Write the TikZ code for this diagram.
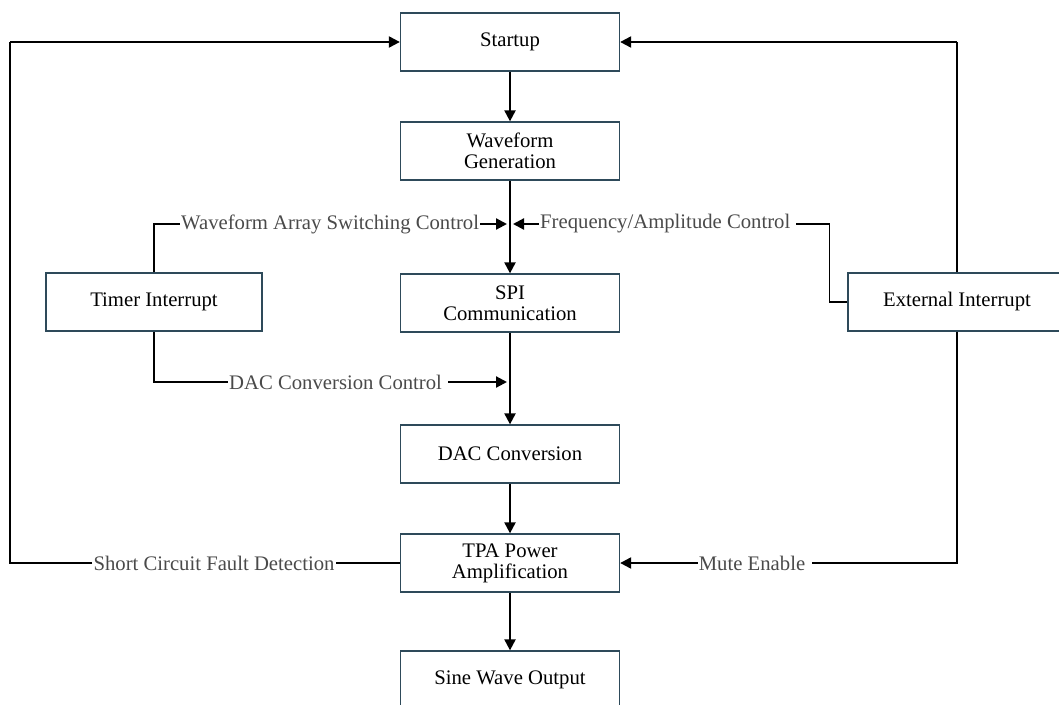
\documentclass[tikz,border=0pt]{standalone}
\usepackage{fontspec}
\setmainfont{Liberation Serif}
\usetikzlibrary{arrows.meta}
\definecolor{boxline}{HTML}{2E4A5A}
\definecolor{labelgray}{HTML}{4A4A4A}
\tikzset{
  block/.style={draw=boxline, line width=1.3pt, minimum width=219pt, minimum height=58pt,
    align=center, inner sep=0pt, font=\fontsize{20.7}{21}\selectfont},
  flow/.style={line width=2.2pt, -{Triangle[length=11pt,width=11pt]}},
  wire/.style={line width=1.3pt},
  tag/.style={text=labelgray, inner sep=1pt, font=\fontsize{20.7}{21}\selectfont}
}
\begin{document}
\begin{tikzpicture}[x=1pt,y=-1pt]
  \useasboundingbox (0,0) rectangle (1059,704);
  \clip (0,0) rectangle (1059,704);
  % main chain
  \node[block] (startup) at (510,42) {Startup};
  \node[block] (wavegen) at (510,151) {Waveform\\Generation};
  \node[block] (spi) at (510,303) {SPI\\Communication};
  \node[block] (dac) at (510,454) {DAC Conversion};
  \node[block] (tpa) at (510,563) {TPA Power\\Amplification};
  \node[block] (sine) at (510,680) {Sine Wave Output};
  % interrupt sources
  \node[block, minimum width=216pt] (timer) at (154,302) {Timer Interrupt};
  \node[block, minimum width=218pt] (extint) at (957,302) {External Interrupt};

  \draw[flow] (startup) -- (wavegen);
  \draw[flow] (wavegen) -- (spi);
  \draw[flow] (spi) -- (dac);
  \draw[flow] (dac) -- (tpa);
  \draw[flow] (tpa) -- (sine);

  % control labels
  \node[tag, anchor=west] (wavesw) at (180,224) {Waveform Array Switching Control};
  \node[tag, anchor=west] (freqamp) at (539,224) {Frequency/Amplitude Control};
  \node[tag, anchor=west] (dacctl) at (228,382) {DAC Conversion Control};
  \node[tag] (fault) at (214,563) {Short Circuit Fault Detection};
  \node[tag] (mute) at (752,563) {Mute Enable};

  \coordinate (joinL) at (507,224);
  \coordinate (joinR) at (513,224);
  \coordinate (joinD) at (507,382);
  \coordinate (loopL) at (10,42);
  \coordinate (loopR) at (957,42);

  \draw[wire] (timer.north) |- (wavesw.west);
  \draw[flow] (wavesw.east) -- (joinL);
  \draw[wire] (extint.west) -- ++(-18,0) |- ([xshift=4pt]freqamp.east);
  \draw[flow] (freqamp.west) -- (joinR);
  \draw[wire] (timer.south) |- (dacctl.west);
  \draw[flow] ([xshift=5pt]dacctl.east) -- (joinD);

  % fault and mute loops
  \draw[wire] (tpa.west) -- (fault.east);
  \draw[wire] (fault.west) -| (loopL);
  \draw[flow] (loopL) -- (startup.west);
  \draw[wire] (extint.north) -- (loopR);
  \draw[flow] (loopR) -- (startup.east);
  \draw[wire] (extint.south) |- ([xshift=6pt]mute.east);
  \draw[flow] (mute.west) -- (tpa.east);
\end{tikzpicture}
\end{document}
